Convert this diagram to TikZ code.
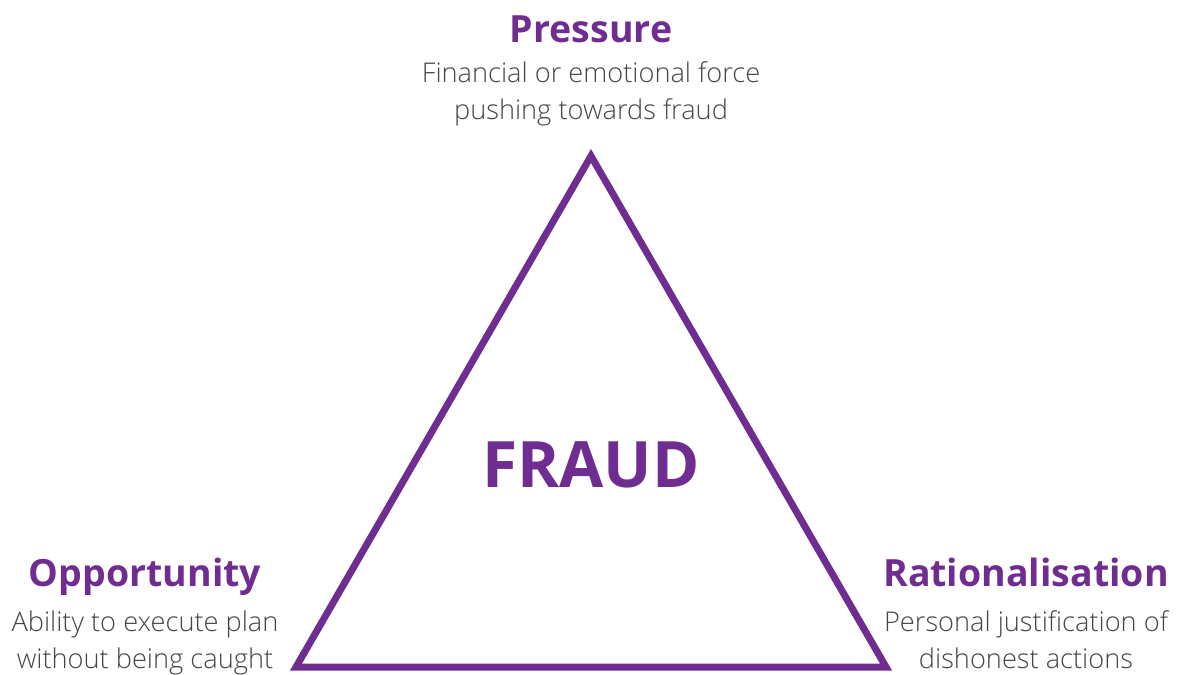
\documentclass[tikz,border=0pt]{standalone}
\usepackage{fontspec}
\setmainfont{Open Sans}
\newfontfamily\notefont{Open Sans Light}
\usetikzlibrary{positioning}
\definecolor{fraudpurple}{RGB}{112,45,145}
\definecolor{notegray}{RGB}{70,70,70}

\begin{document}
\begin{tikzpicture}[x=1pt, y=-1pt,
  head/.style={font=\fontsize{37.5}{44}\selectfont\bfseries, text=fraudpurple,
               inner sep=0pt, text depth=0pt, anchor=base},
  note/.style={font=\fontsize{27.2}{37}\selectfont\notefont, text=notegray,
               align=center, inner sep=0pt},
  side/.style={draw=fraudpurple, line width=7pt, line join=miter},
  node distance=19pt
]
\useasboundingbox (0,0) rectangle (1179,675);

% the triangle
\coordinate (apex) at (591,156);
\coordinate (lcorner) at (296,667);
\coordinate (rcorner) at (886,667);
\draw[side] (apex) -- (lcorner) -- (rcorner) -- cycle;

\node[font=\fontsize{64}{72}\selectfont\bfseries, text=fraudpurple,
      inner sep=0pt, anchor=base] (fraud) at (591,487) {FRAUD};

% the three corners
\node[head] (pressure) at (591,42) {Pressure};
\node[note, below=of pressure] (pressurenote) {Financial or emotional force\\pushing towards fraud};

\node[head] (opportunity) at (145,586) {Opportunity};
\node[note, below=24pt of opportunity] (opportunitynote) {Ability to execute plan\\without being caught};

\node[head] (rational) at (1026,586) {Rationalisation};
\node[note, below=24pt of rational] (rationalnote) {Personal justification of\\dishonest actions};
\end{tikzpicture}
\end{document}
